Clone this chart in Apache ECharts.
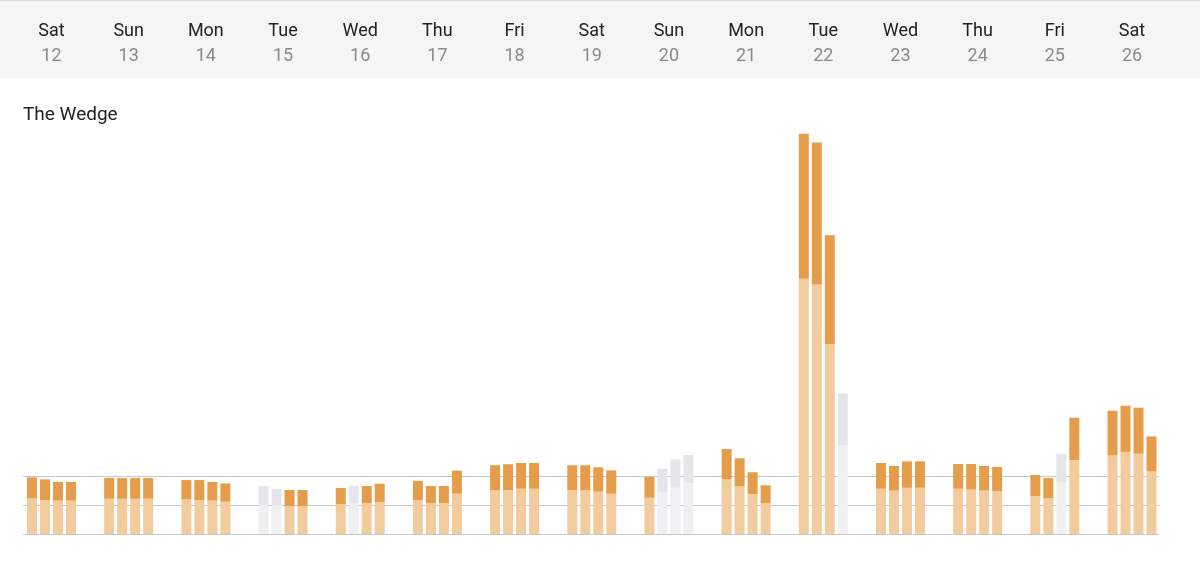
<!DOCTYPE html>
<html>
<head>
<meta charset="utf-8">
<script src="https://cdn.jsdelivr.net/npm/echarts@6/dist/echarts.min.js"></script>
<style>html,body{margin:0;padding:0;background:#fff}#chart{width:1200px;height:584px}</style>
</head>
<body>
<div id="chart"></div>
<script>
// Day header labels
var dayNames = ['Sat','Sun','Mon','Tue','Wed','Thu','Fri','Sat','Sun','Mon','Tue','Wed','Thu','Fri','Sat'];
var dayDates = ['12','13','14','15','16','17','18','19','20','21','22','23','24','25','26'];

// Total bar height per day, 4 readings per day
var totalHeight = [
  [3.91, 3.77, 3.59, 3.59],
  [3.86, 3.86, 3.86, 3.86],
  [3.72, 3.72, 3.59, 3.49],
  [3.31, 3.10, 3.03, 3.03],
  [3.17, 3.31, 3.31, 3.47],
  [3.66, 3.31, 3.31, 4.37],
  [4.74, 4.81, 4.90, 4.90],
  [4.74, 4.74, 4.60, 4.39],
  [3.93, 4.50, 5.15, 5.45],
  [5.86, 5.22, 4.26, 3.36],
  [27.6, 27.0, 20.6, 9.7],
  [4.90, 4.69, 5.01, 5.01],
  [4.83, 4.83, 4.69, 4.62],
  [4.07, 3.86, 5.52, 8.02],
  [8.50, 8.85, 8.71, 6.73]
];
// Lower (light) part per day
var lowerHeight = [
  [2.46, 2.34, 2.30, 2.30],
  [2.43, 2.43, 2.43, 2.43],
  [2.39, 2.34, 2.30, 2.23],
  [2.00, 2.00, 1.93, 1.93],
  [2.05, 2.10, 2.12, 2.21],
  [2.32, 2.12, 2.12, 2.78],
  [3.01, 3.03, 3.12, 3.12],
  [3.03, 3.01, 2.92, 2.78],
  [2.50, 2.88, 3.26, 3.50],
  [3.77, 3.29, 2.74, 2.14],
  [17.6, 17.2, 13.1, 6.1],
  [3.12, 2.99, 3.19, 3.19],
  [3.12, 3.06, 2.99, 2.94],
  [2.62, 2.46, 3.56, 5.10],
  [5.42, 5.66, 5.54, 4.32]
];
// Greyed-out readings (1 = grey)
var greyed = [
  [0,0,0,0],[0,0,0,0],[0,0,0,0],[1,1,0,0],[0,1,0,0],
  [0,0,0,0],[0,0,0,0],[0,0,0,0],[0,1,1,1],[0,0,0,0],
  [0,0,0,1],[0,0,0,0],[0,0,0,0],[0,0,1,0],[0,0,0,0]
];
var gridTicks = [0, 2, 4];

var DARK = '#e59d4b', LIGHT = '#f3cc9e', GREY_DARK = '#e5e6e9', GREY_LIGHT = '#eff0f2';

var chart = echarts.init(document.getElementById('chart'), null, {renderer: 'canvas'});

var series = [];
for (var s = 0; s < 4; s++) {
  series.push({
    type: 'bar', stack: 'slot' + s, barWidth: 10, barGap: '30%',
    xAxisIndex: 0, yAxisIndex: 0, silent: true,
    data: dayNames.map(function (d, i) {
      return { value: lowerHeight[i][s], itemStyle: { color: greyed[i][s] ? GREY_LIGHT : LIGHT } };
    })
  });
  series.push({
    type: 'bar', stack: 'slot' + s, barWidth: 10, barGap: '30%',
    xAxisIndex: 0, yAxisIndex: 0, silent: true,
    data: dayNames.map(function (d, i) {
      return { value: +(totalHeight[i][s] - lowerHeight[i][s]).toFixed(3), itemStyle: { color: greyed[i][s] ? GREY_DARK : DARK } };
    })
  });
}
series.push({ type: 'line', xAxisIndex: 1, yAxisIndex: 1, data: [], silent: true });

var option = {
  animation: false,
  backgroundColor: '#ffffff',
  textStyle: { fontFamily: 'Roboto, "Noto Sans", sans-serif' },
  graphic: [
    { type: 'rect', z: -10, shape: { x: 0, y: 0, width: 1200, height: 78 }, style: { fill: '#f5f5f5' } },
    { type: 'rect', z: -9, shape: { x: 0, y: 0, width: 1200, height: 1 }, style: { fill: '#d9d9d9' } }
  ],
  title: {
    text: 'The Wedge', left: 23, top: 104, padding: 0,
    textStyle: { fontSize: 19, fontWeight: 'normal', color: '#222', fontFamily: 'Roboto', lineHeight: 22 }
  },
  grid: [
    { left: 12.9, width: 1157.7, top: 90, bottom: 50 },
    { left: 23, right: 41, top: 476, bottom: 50 }
  ],
  xAxis: [
    {
      type: 'category', gridIndex: 0, position: 'top', data: dayNames,
      axisLine: { show: false }, axisTick: { show: false },
      axisLabel: {
        margin: 21.5, interval: 0,
        formatter: function (v, i) { return '{a|' + v + '}\n{b|' + dayDates[i] + '}'; },
        rich: {
          a: { fontSize: 18, color: '#222', lineHeight: 25, fontFamily: 'Roboto' },
          b: { fontSize: 18, color: '#8a8a8a', lineHeight: 25, fontFamily: 'Roboto' }
        }
      }
    },
    { type: 'value', gridIndex: 1, show: false, min: 0, max: 1 }
  ],
  yAxis: [
    { type: 'value', gridIndex: 0, min: 0, max: 30.62, show: false, splitLine: { show: false } },
    {
      type: 'value', gridIndex: 1, min: gridTicks[0], max: gridTicks[gridTicks.length - 1], interval: 2,
      axisLine: { show: false }, axisTick: { show: false }, axisLabel: { show: false },
      splitLine: { show: true, lineStyle: { color: '#c8c8c8', width: 1 } }
    }
  ],
  series: series
};
chart.setOption(option);
</script>
</body>
</html>
